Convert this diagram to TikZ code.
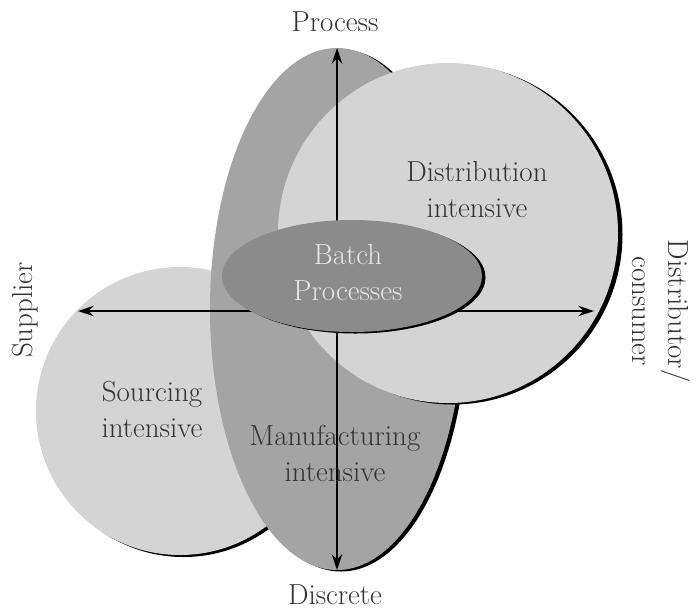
\documentclass[tikz,border=0pt]{standalone}
\usepackage{tikz}
\usetikzlibrary{positioning}
\usetikzlibrary{calc,arrows.meta}
\definecolor{lightgrey}{HTML}{D4D4D4}
\definecolor{midgrey}{HTML}{A4A4A4}
\definecolor{darkgrey}{HTML}{8B8B8B}
\definecolor{textgrey}{HTML}{333333}
\definecolor{batchtext}{HTML}{E8E8E8}

\begin{document}
\begin{tikzpicture}[>={Stealth[length=9pt,width=6pt]},
  lbl/.style={text=textgrey,align=center,font=\fontsize{16.5}{20.5}\selectfont},
  dropblack/.style={fill=black}]
  \useasboundingbox (0,0) rectangle (14,-12.26);
  % centres of the four regions
  \coordinate (Src) at (3.6,-8.22);
  \coordinate (Man) at (6.74,-6.18);
  \coordinate (Dst) at (8.96,-4.66);
  \coordinate (Bat) at (7.04,-5.52);
  % sourcing circle (left), with its black drop edge
  \fill[dropblack] ($(Src)+(0.07,-0.04)$) circle (2.88);
  \fill[lightgrey] (Src) circle (2.88);
  % manufacturing ellipse (tall)
  \fill[dropblack] ($(Man)+(0.08,-0.03)$) ellipse [x radius=2.54, y radius=5.22];
  \fill[midgrey] (Man) ellipse [x radius=2.54, y radius=5.22];
  % distribution circle (right)
  \fill[dropblack] ($(Dst)+(0.09,-0.03)$) circle (3.4);
  \fill[lightgrey] (Dst) circle (3.4);
  % the two axes
  \coordinate (Atop) at (6.74,-0.96);
  \coordinate (Abot) at (6.74,-11.4);
  \coordinate (Alft) at (1.56,-6.22);
  \coordinate (Argt) at (11.88,-6.22);
  \draw[<->,thick] (Atop) -- (Abot);
  \draw[<->,thick] (Alft) -- (Argt);
  % batch ellipse in the middle
  \fill[dropblack] ($(Bat)+(0.07,-0.03)$) ellipse [x radius=2.6, y radius=1.12];
  \fill[darkgrey] (Bat) ellipse [x radius=2.6, y radius=1.12];
  % region labels
  \node[lbl,text=batchtext] (batch) at (6.96,-5.46) {Batch\\Processes};
  \node[lbl] (distr) at (9.54,-3.8) {Distribution\\intensive};
  \node[lbl] (sourc) at (3.04,-8.18) {Sourcing\\intensive};
  \node[lbl] (manuf) at (6.7,-9.06) {Manufacturing\\intensive};
  % axis labels
  \node[lbl] (process) at (6.7,-0.44) {Process};
  \node[lbl] (discrete) at (6.7,-11.9) {Discrete};
  \node[lbl,rotate=90] (supplier) at (0.5,-6.2) {Supplier};
  \node[lbl,rotate=-90] (consumer) at (13.22,-6.22) {Distributor/\\consumer};
\end{tikzpicture}
\end{document}
